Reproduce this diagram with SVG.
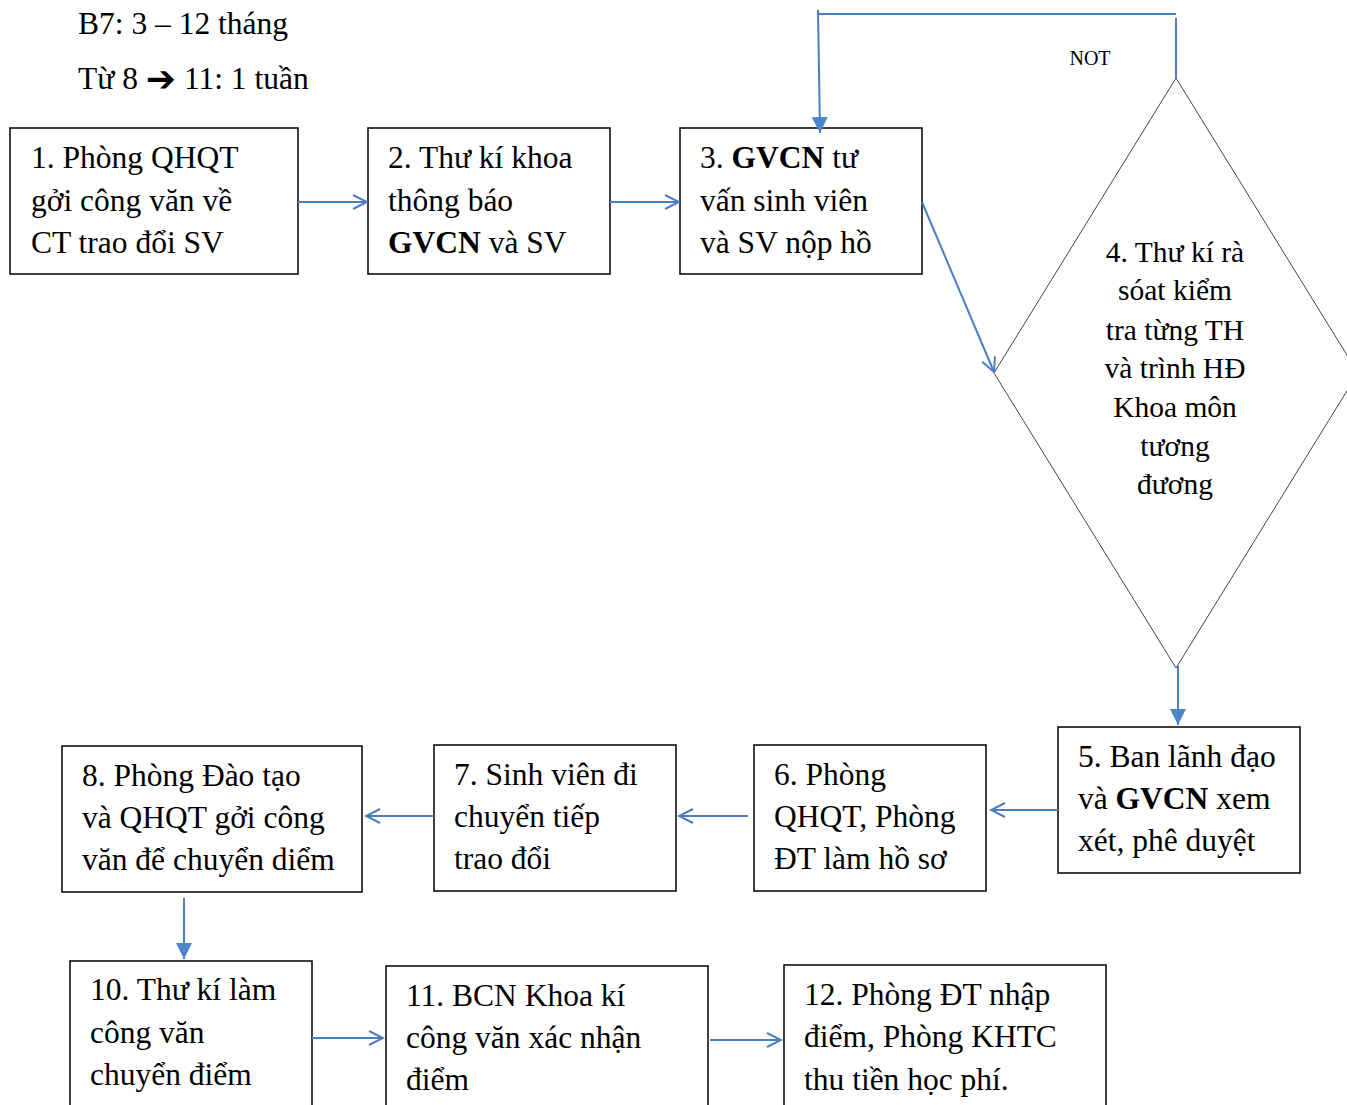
<svg xmlns="http://www.w3.org/2000/svg" width="1347" height="1105" viewBox="0 0 1347 1105">
  <defs>
    <style>
      .t { font-family: "Liberation Serif", "Times New Roman", serif; font-size: 31.5px; fill: #000; }
      .d { font-family: "Liberation Serif", "Times New Roman", serif; font-size: 29.5px; fill: #000; text-anchor: middle; }
      .box { fill: #fff; stroke: #000; stroke-width: 1.5; }
      .dia { fill: none; stroke: #444; stroke-width: 1; }
      .c { fill: none; stroke: #4a7ebf; stroke-width: 2; }
      .b { font-weight: bold; }
    </style>
    <marker id="open" viewBox="0 0 20 20" refX="18" refY="10" markerWidth="20" markerHeight="20" markerUnits="userSpaceOnUse" orient="auto">
      <path d="M4,3 L18,10 L4,17" fill="none" stroke="#4a7ebf" stroke-width="2"/>
    </marker>
    <marker id="fill" viewBox="0 0 18 18" refX="16" refY="9" markerWidth="18" markerHeight="18" markerUnits="userSpaceOnUse" orient="auto">
      <path d="M0,1 L16,9 L0,17 Z" fill="#4a86d0"/>
    </marker>
  </defs>

  <!-- header notes -->
  <text class="t" x="78" y="34">B7: 3 – 12 tháng</text>
  <text class="t" x="78" y="89">Từ 8 <tspan font-family="DejaVu Sans, sans-serif" font-size="36" font-weight="bold" dy="2">➔</tspan><tspan dy="-2"> 11: 1 tuần</tspan></text>

  <g id="n1">
    <rect class="box" x="10" y="128" width="288" height="146"/>
    <text class="t" x="31" y="168">1. Phòng QHQT</text>
    <text class="t" x="31" y="211">gởi công văn về</text>
    <text class="t" x="31" y="253">CT trao đổi SV</text>
  </g>
  <g id="n2">
    <rect class="box" x="368" y="128" width="242" height="146"/>
    <text class="t" x="388" y="168">2. Thư kí khoa</text>
    <text class="t" x="388" y="211">thông báo</text>
    <text class="t" x="388" y="253"><tspan class="b">GVCN</tspan> và SV</text>
  </g>
  <g id="n3">
    <rect class="box" x="680" y="128" width="242" height="146"/>
    <text class="t" x="700" y="168">3. <tspan class="b">GVCN</tspan> tư</text>
    <text class="t" x="700" y="211">vấn sinh viên</text>
    <text class="t" x="700" y="253">và SV nộp hồ</text>
  </g>
  <g id="n4">
    <polygon class="dia" points="1176,78 1358,373 1176,668 994,373"/>
    <text class="d" x="1175" y="262">4. Thư kí rà</text>
    <text class="d" x="1175" y="300">sóat kiểm</text>
    <text class="d" x="1175" y="340">tra từng TH</text>
    <text class="d" x="1175" y="378">và trình HĐ</text>
    <text class="d" x="1175" y="417">Khoa môn</text>
    <text class="d" x="1175" y="456">tương</text>
    <text class="d" x="1175" y="494">đương</text>
  </g>
  <g id="n5">
    <rect class="box" x="1058" y="727" width="242" height="146"/>
    <text class="t" x="1078" y="767">5. Ban lãnh đạo</text>
    <text class="t" x="1078" y="809">và <tspan class="b">GVCN</tspan> xem</text>
    <text class="t" x="1078" y="851">xét, phê duyệt</text>
  </g>
  <g id="n6">
    <rect class="box" x="754" y="745" width="232" height="146"/>
    <text class="t" x="774" y="785">6. Phòng</text>
    <text class="t" x="774" y="827">QHQT, Phòng</text>
    <text class="t" x="774" y="869">ĐT làm hồ sơ</text>
  </g>
  <g id="n7">
    <rect class="box" x="434" y="745" width="242" height="146"/>
    <text class="t" x="454" y="785">7. Sinh viên đi</text>
    <text class="t" x="454" y="827">chuyển tiếp</text>
    <text class="t" x="454" y="869">trao đổi</text>
  </g>
  <g id="n8">
    <rect class="box" x="62" y="746" width="300" height="146"/>
    <text class="t" x="82" y="786">8. Phòng Đào tạo</text>
    <text class="t" x="82" y="828">và QHQT gởi công</text>
    <text class="t" x="82" y="870">văn để chuyển diểm</text>
  </g>
  <g id="n10">
    <rect class="box" x="70" y="961" width="242" height="160"/>
    <text class="t" x="90" y="1000">10. Thư kí làm</text>
    <text class="t" x="90" y="1043">công văn</text>
    <text class="t" x="90" y="1085">chuyển điểm</text>
  </g>
  <g id="n11">
    <rect class="box" x="386" y="966" width="322" height="160"/>
    <text class="t" x="406" y="1006">11. BCN Khoa kí</text>
    <text class="t" x="406" y="1048">công văn xác nhận</text>
    <text class="t" x="406" y="1090">điểm</text>
  </g>
  <g id="n12">
    <rect class="box" x="784" y="965" width="322" height="160"/>
    <text class="t" x="804" y="1005">12. Phòng ĐT nhập</text>
    <text class="t" x="804" y="1047">điểm, Phòng KHTC</text>
    <text class="t" x="804" y="1090">thu tiền học phí.</text>
  </g>

  <!-- connectors -->
  <g id="connectors">
    <line class="c" x1="298" y1="202" x2="367" y2="202" marker-end="url(#open)"/>
    <line class="c" x1="610" y1="202" x2="679" y2="202" marker-end="url(#open)"/>
    <line class="c" x1="922" y1="202" x2="994" y2="372" marker-end="url(#open)"/>
    <!-- NOT loop back to step 3 -->
    <line class="c" x1="1176" y1="18" x2="1176" y2="78"/>
    <line class="c" x1="818" y1="14" x2="1176" y2="14"/>
    <line class="c" x1="818" y1="10" x2="820" y2="133" marker-end="url(#fill)"/>
    <line class="c" x1="1178" y1="666" x2="1178" y2="725" marker-end="url(#fill)"/>
    <line class="c" x1="1058" y1="810" x2="991" y2="810" marker-end="url(#open)"/>
    <line class="c" x1="748" y1="816" x2="679" y2="816" marker-end="url(#open)"/>
    <line class="c" x1="434" y1="816" x2="366" y2="816" marker-end="url(#open)"/>
    <line class="c" x1="184" y1="898" x2="184" y2="959" marker-end="url(#fill)"/>
    <line class="c" x1="312" y1="1038" x2="383" y2="1038" marker-end="url(#open)"/>
    <line class="c" x1="710" y1="1040" x2="781" y2="1040" marker-end="url(#open)"/>
    <text x="1090" y="65" font-family="Liberation Serif, serif" font-size="20" text-anchor="middle">NOT</text>
  </g>
</svg>
